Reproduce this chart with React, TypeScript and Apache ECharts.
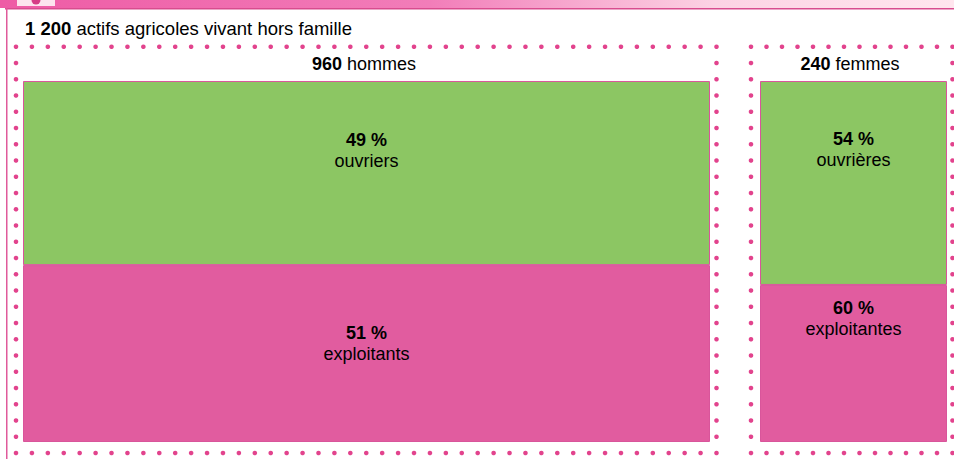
import React, { useEffect, useRef } from "react";
import * as echarts from "echarts";

// ---- data ----
const totalLabel = "1 200";
const titleText = " actifs agricoles vivant hors famille";
const groups = ["hommes", "femmes"];
const groupCounts = ["960", "240"];
// displayed percentages (as printed)
const labelPctBottom = ["51 %", "60 %"];
const labelPctTop = ["49 %", "54 %"];
const labelNameBottom = ["exploitants", "exploitantes"];
const labelNameTop = ["ouvriers", "ouvrières"];
// bar heights as drawn in the picture (share of the box, %)
const heightBottom = [49, 43.5];
const heightTop = [51, 56.5];

const GREEN = "#8CC663";
const PINK = "#E15C9F";
const DOT = "#E2438D";
const BORDER = "#D9559B";
const FONT = "Liberation Sans, Arial, sans-serif";
const FS = 18;
const FS_TITLE = 18.5;

const grids = [
  { left: 23, top: 81, width: 687, height: 361 },
  { left: 760, top: 81, width: 187, height: 361 },
];
const boxes = [
  { x0: 16, y0: 46.7, x1: 716.5, y1: 453 },
  { x0: 751, y0: 46.7, x1: 952.5, y1: 453 },
];
const groupTitleX = [364, 850];
const offBottom = [[0, -10], [0, -45]];
const offTop = [[0, -23], [0, -33]];

function dots(b: { x0: number; y0: number; x1: number; y1: number }) {
  const out: any[] = [];
  const nx = Math.round((b.x1 - b.x0) / 16);
  const ny = Math.round((b.y1 - b.y0) / 16);
  const sx = (b.x1 - b.x0) / nx;
  const sy = (b.y1 - b.y0) / ny;
  const c = (x: number, y: number) =>
    out.push({ type: "circle", shape: { cx: x, cy: y, r: 2.3 }, style: { fill: DOT }, silent: true });
  for (let i = 0; i <= nx; i++) {
    c(b.x0 + i * sx, b.y0);
    c(b.x0 + i * sx, b.y1);
  }
  for (let j = 1; j < ny; j++) {
    c(b.x0, b.y0 + j * sy);
    c(b.x1, b.y0 + j * sy);
  }
  return out;
}

export default function App() {
  const ref = useRef<HTMLDivElement>(null);
  useEffect(() => {
    if (!ref.current) return;
    const chart = echarts.init(ref.current, null, { renderer: "svg" });
    const rich = {
      b: { fontWeight: "bold", fontSize: FS, fontFamily: FONT, color: "#000", lineHeight: 21 },
      n: { fontSize: FS, fontFamily: FONT, color: "#000", lineHeight: 21 },
    };
    const series: any[] = [];
    groups.forEach((g, i) => {
      series.push({
        type: "bar",
        name: labelNameBottom[i],
        stack: "s" + i,
        xAxisIndex: i,
        yAxisIndex: i,
        barWidth: "100%",
        data: [heightBottom[i]],
        itemStyle: { color: PINK, borderColor: BORDER, borderWidth: 1 },
        label: {
          show: true,
          position: "inside",
          offset: offBottom[i],
          formatter: `{b|${labelPctBottom[i]}}\n{n|${labelNameBottom[i]}}`,
          rich,
        },
      });
      series.push({
        type: "bar",
        name: labelNameTop[i],
        stack: "s" + i,
        xAxisIndex: i,
        yAxisIndex: i,
        barWidth: "100%",
        data: [heightTop[i]],
        itemStyle: { color: GREEN, borderColor: BORDER, borderWidth: 1 },
        label: {
          show: true,
          position: "inside",
          offset: offTop[i],
          formatter: `{b|${labelPctTop[i]}}\n{n|${labelNameTop[i]}}`,
          rich,
        },
      });
    });

    const graphic: any[] = [
      {
        type: "rect",
        shape: { x: 0, y: 0, width: 954, height: 8 },
        style: {
          fill: new echarts.graphic.LinearGradient(0, 0, 1, 0, [
            { offset: 0, color: "#EE5BA5" },
            { offset: 0.45, color: "#F27DB9" },
            { offset: 0.75, color: "#FCD3E4" },
            { offset: 1, color: "#FFE6EE" },
          ]),
        },
        silent: true,
      },
      { type: "rect", shape: { x: 17, y: 0, width: 38, height: 6 }, style: { fill: "#FDE4EE" }, silent: true },
      {
        type: "sector",
        shape: { cx: 36, cy: 0, r0: 0, r: 4.5, startAngle: 0, endAngle: Math.PI },
        style: { fill: "#D63D86" },
        silent: true,
      },
      { type: "rect", shape: { x: 5, y: 8, width: 949, height: 1.5 }, style: { fill: "#D84C8E" }, silent: true },
      { type: "rect", shape: { x: 6, y: 8, width: 1.5, height: 451 }, style: { fill: "#E05A9B" }, silent: true },
      {
        type: "text",
        x: 25,
        y: 28,
        style: {
          text: `{b|${totalLabel}}{n|${titleText}}`,
          verticalAlign: "middle",
          rich: {
            b: { fontWeight: "bold", fontSize: FS_TITLE, fontFamily: FONT, fill: "#000" },
            n: { fontSize: FS_TITLE, fontFamily: FONT, fill: "#000" },
          },
        },
        silent: true,
      },
      ...groups.map((g, i) => ({
        type: "text",
        x: groupTitleX[i],
        y: 64,
        style: {
          text: `{b|${groupCounts[i]}}{n| ${g}}`,
          align: "center",
          verticalAlign: "middle",
          rich: {
            b: { fontWeight: "bold", fontSize: FS, fontFamily: FONT, fill: "#000" },
            n: { fontSize: FS, fontFamily: FONT, fill: "#000" },
          },
        },
        silent: true,
      })),
      ...dots(boxes[0]),
      ...dots(boxes[1]),
    ];

    chart.setOption({
      animation: false,
      backgroundColor: "#fff",
      grid: grids.map((g) => ({ ...g, containLabel: false })),
      xAxis: grids.map((_, i) => ({ type: "category", gridIndex: i, data: [groups[i]], show: false })),
      yAxis: grids.map((_, i) => ({ type: "value", gridIndex: i, min: 0, max: 100, show: false })),
      series,
      graphic,
    });
    return () => chart.dispose();
  }, []);
  return (
    <div
      ref={ref}
      style={{ position: "fixed", left: 0, top: 0, width: 954, height: 459 }}
    />
  );
}
